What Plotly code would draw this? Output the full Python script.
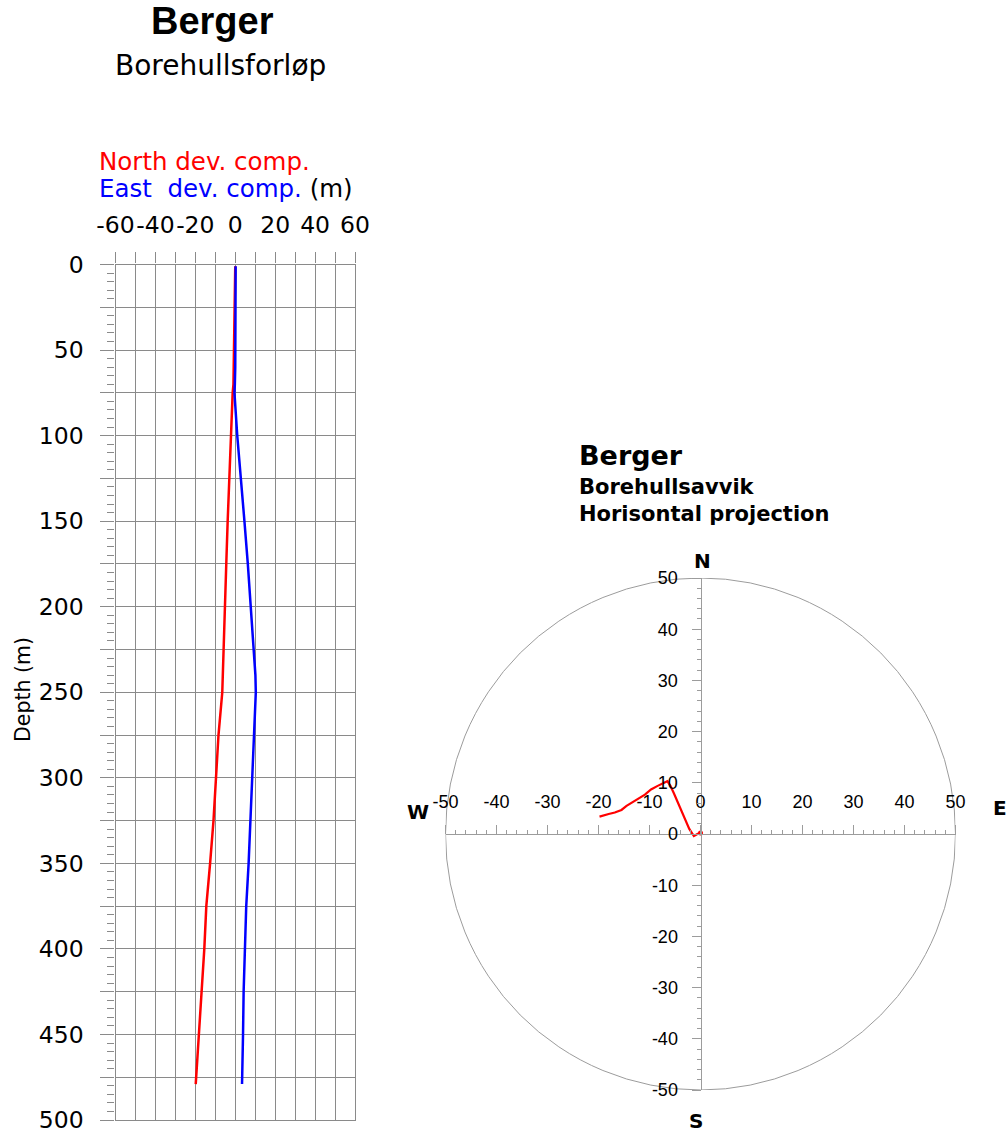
import plotly.graph_objects as go

W, H = 1006, 1134

# ---- data ----
depth = [1, 25, 50, 60, 70, 75, 100, 125, 150, 175, 200, 225, 240, 250,
         275, 300, 325, 350, 375, 400, 425, 450, 479]
north = [0.0, -0.2, -0.4, -0.6, -0.9, -1.3, -2.2, -3.0, -3.8, -4.5, -5.2, -5.9, -6.3, -6.5,
         -8.4, -9.7, -10.9, -12.6, -14.5, -15.5, -16.8, -18.0, -19.8]
east = [0.2, 0.2, 0.1, 0.0, -0.2, -0.4, 1.0, 2.9, 4.6, 6.3, 7.9, 9.4, 10.1, 10.3,
        9.4, 8.7, 7.7, 6.7, 5.5, 4.7, 4.2, 3.9, 3.4]

dev_ticks = list(range(-60, 61, 10))
dev_labels = [str(v) if v % 20 == 0 else "" for v in dev_ticks]
depth_ticks = list(range(0, 501, 25))
depth_labels = [str(v) if v % 50 == 0 else "" for v in depth_ticks]
proj_ticks = list(range(-50, 51, 10))
proj_labels = [str(v) for v in proj_ticks]


def px(x):
    return x / W


def py(y):
    return 1 - y / H


GRID = "#8a8a8a"
AX = "#9c9c9c"
DJ = "DejaVu Sans"
LS = "Liberation Sans"

fig = go.Figure()
fig.add_trace(go.Scatter(x=north, y=depth, mode="lines", line=dict(color="#ff0000", width=2.5),
                         xaxis="x", yaxis="y", hoverinfo="skip"))
fig.add_trace(go.Scatter(x=east, y=depth, mode="lines", line=dict(color="#0000ff", width=2.5),
                         xaxis="x", yaxis="y", hoverinfo="skip"))
fig.add_trace(go.Scatter(x=north, y=east, mode="lines", line=dict(color="#ff0000", width=2.2),
                         xaxis="x2", yaxis="y2", hoverinfo="skip"))
fig.add_trace(go.Scatter(x=north[:1], y=east[:1], mode="markers", marker=dict(color="#ff0000", size=5),
                         xaxis="x2", yaxis="y2", hoverinfo="skip"))

fig.update_layout(
    width=W, height=H,
    margin=dict(l=0, r=0, t=0, b=0, pad=0, autoexpand=False),
    paper_bgcolor="white", plot_bgcolor="white",
    showlegend=False,
    xaxis=dict(
        domain=[px(115.5), px(355)], range=[-60, 60], side="top", anchor="y",
        tickmode="array", tickvals=dev_ticks, ticktext=dev_labels, tickangle=0,
        ticks="outside", ticklen=11, tickcolor=GRID, tickwidth=1.3,
        showgrid=True, gridcolor=GRID, gridwidth=1.3, zeroline=False,
        showline=True, linecolor=GRID, linewidth=1.3, mirror=True,
        tickfont=dict(family=DJ, size=23.5, color="black"), ticklabelstandoff=10,
        ticklabeloverflow="allow",
    ),
    yaxis=dict(
        domain=[py(1120), py(264.5)], range=[500, 0], anchor="x",
        tickmode="array", tickvals=depth_ticks, ticktext=depth_labels,
        ticks="outside", ticklen=14, tickcolor=GRID, tickwidth=1.3,
        minor=dict(tickmode="linear", tick0=0, dtick=5, ticks="outside", ticklen=7,
                   tickcolor=GRID, tickwidth=1, showgrid=False),
        showgrid=True, gridcolor=GRID, gridwidth=1.3, zeroline=False,
        showline=True, linecolor=GRID, linewidth=1.3, mirror=True,
        tickfont=dict(family=DJ, size=23.5, color="black"), ticklabelstandoff=12,
        ticklabeloverflow="allow",
    ),
    xaxis2=dict(
        domain=[px(445.5), px(955.5)], range=[-50, 50], anchor="free", position=py(834),
        side="top", tickmode="array", tickvals=proj_ticks, ticktext=proj_labels, tickangle=0,
        ticks="outside", ticklen=9, tickcolor=AX, tickwidth=1,
        minor=dict(tickmode="linear", tick0=0, dtick=2, ticks="outside", ticklen=4,
                   tickcolor=AX, tickwidth=1, showgrid=False),
        showline=True, linecolor=AX, linewidth=1, showgrid=False, zeroline=False,
        tickfont=dict(family=LS, size=18, color="black"), ticklabelstandoff=10,
        ticklabeloverflow="allow",
    ),
    yaxis2=dict(
        domain=[py(1090), py(578)], range=[-50, 50], anchor="free", position=px(700.5),
        side="left", tickmode="array", tickvals=proj_ticks, ticktext=proj_labels,
        ticks="outside", ticklen=9, tickcolor=AX, tickwidth=1,
        minor=dict(tickmode="linear", tick0=0, dtick=2, ticks="outside", ticklen=4,
                   tickcolor=AX, tickwidth=1, showgrid=False),
        showline=True, linecolor=AX, linewidth=1, showgrid=False, zeroline=False,
        tickfont=dict(family=LS, size=18, color="black"), ticklabelstandoff=10,
        ticklabeloverflow="allow",
    ),
    shapes=[
        dict(type="circle", xref="x2", yref="y2", x0=-50, y0=-50, x1=50, y1=50,
             line=dict(color=AX, width=1), layer="below"),
    ],
)


def ann(text, x, y, size, family=DJ, color="black", xanchor="center", angle=0):
    fig.add_annotation(text=text, x=px(x), y=py(y), xref="paper", yref="paper",
                       xanchor=xanchor, yanchor="middle", showarrow=False,
                       textangle=angle, font=dict(family=family, size=size, color=color))


ann("<b>Berger</b>", 212.5, 21, 38, family=LS)
ann("Borehullsforløp", 220.7, 66, 28)
ann("North dev. comp.", 97, 162, 24.5, color="#ff0000", xanchor="left")
ann('<span style="color:#0000ff">East\u00a0 dev. comp.</span> (m)', 97, 189, 24.5, xanchor="left")
ann("Depth (m)", 23, 690, 20.5, angle=-90)

ann("<b>Berger</b>", 577, 455, 27, xanchor="left")
ann("<b>Borehullsavvik</b>", 577, 487, 21, xanchor="left")
ann("<b>Horisontal projection</b>", 577, 514, 21, xanchor="left")

ann("<b>N</b>", 702, 561, 20)
ann("<b>S</b>", 696, 1121, 20)
ann("<b>W</b>", 418, 812, 20)
ann("<b>E</b>", 1000, 808, 20)

fig.write_html("out.html", config={"displayModeBar": False},
               post_script="document.body.style.margin='0';")
